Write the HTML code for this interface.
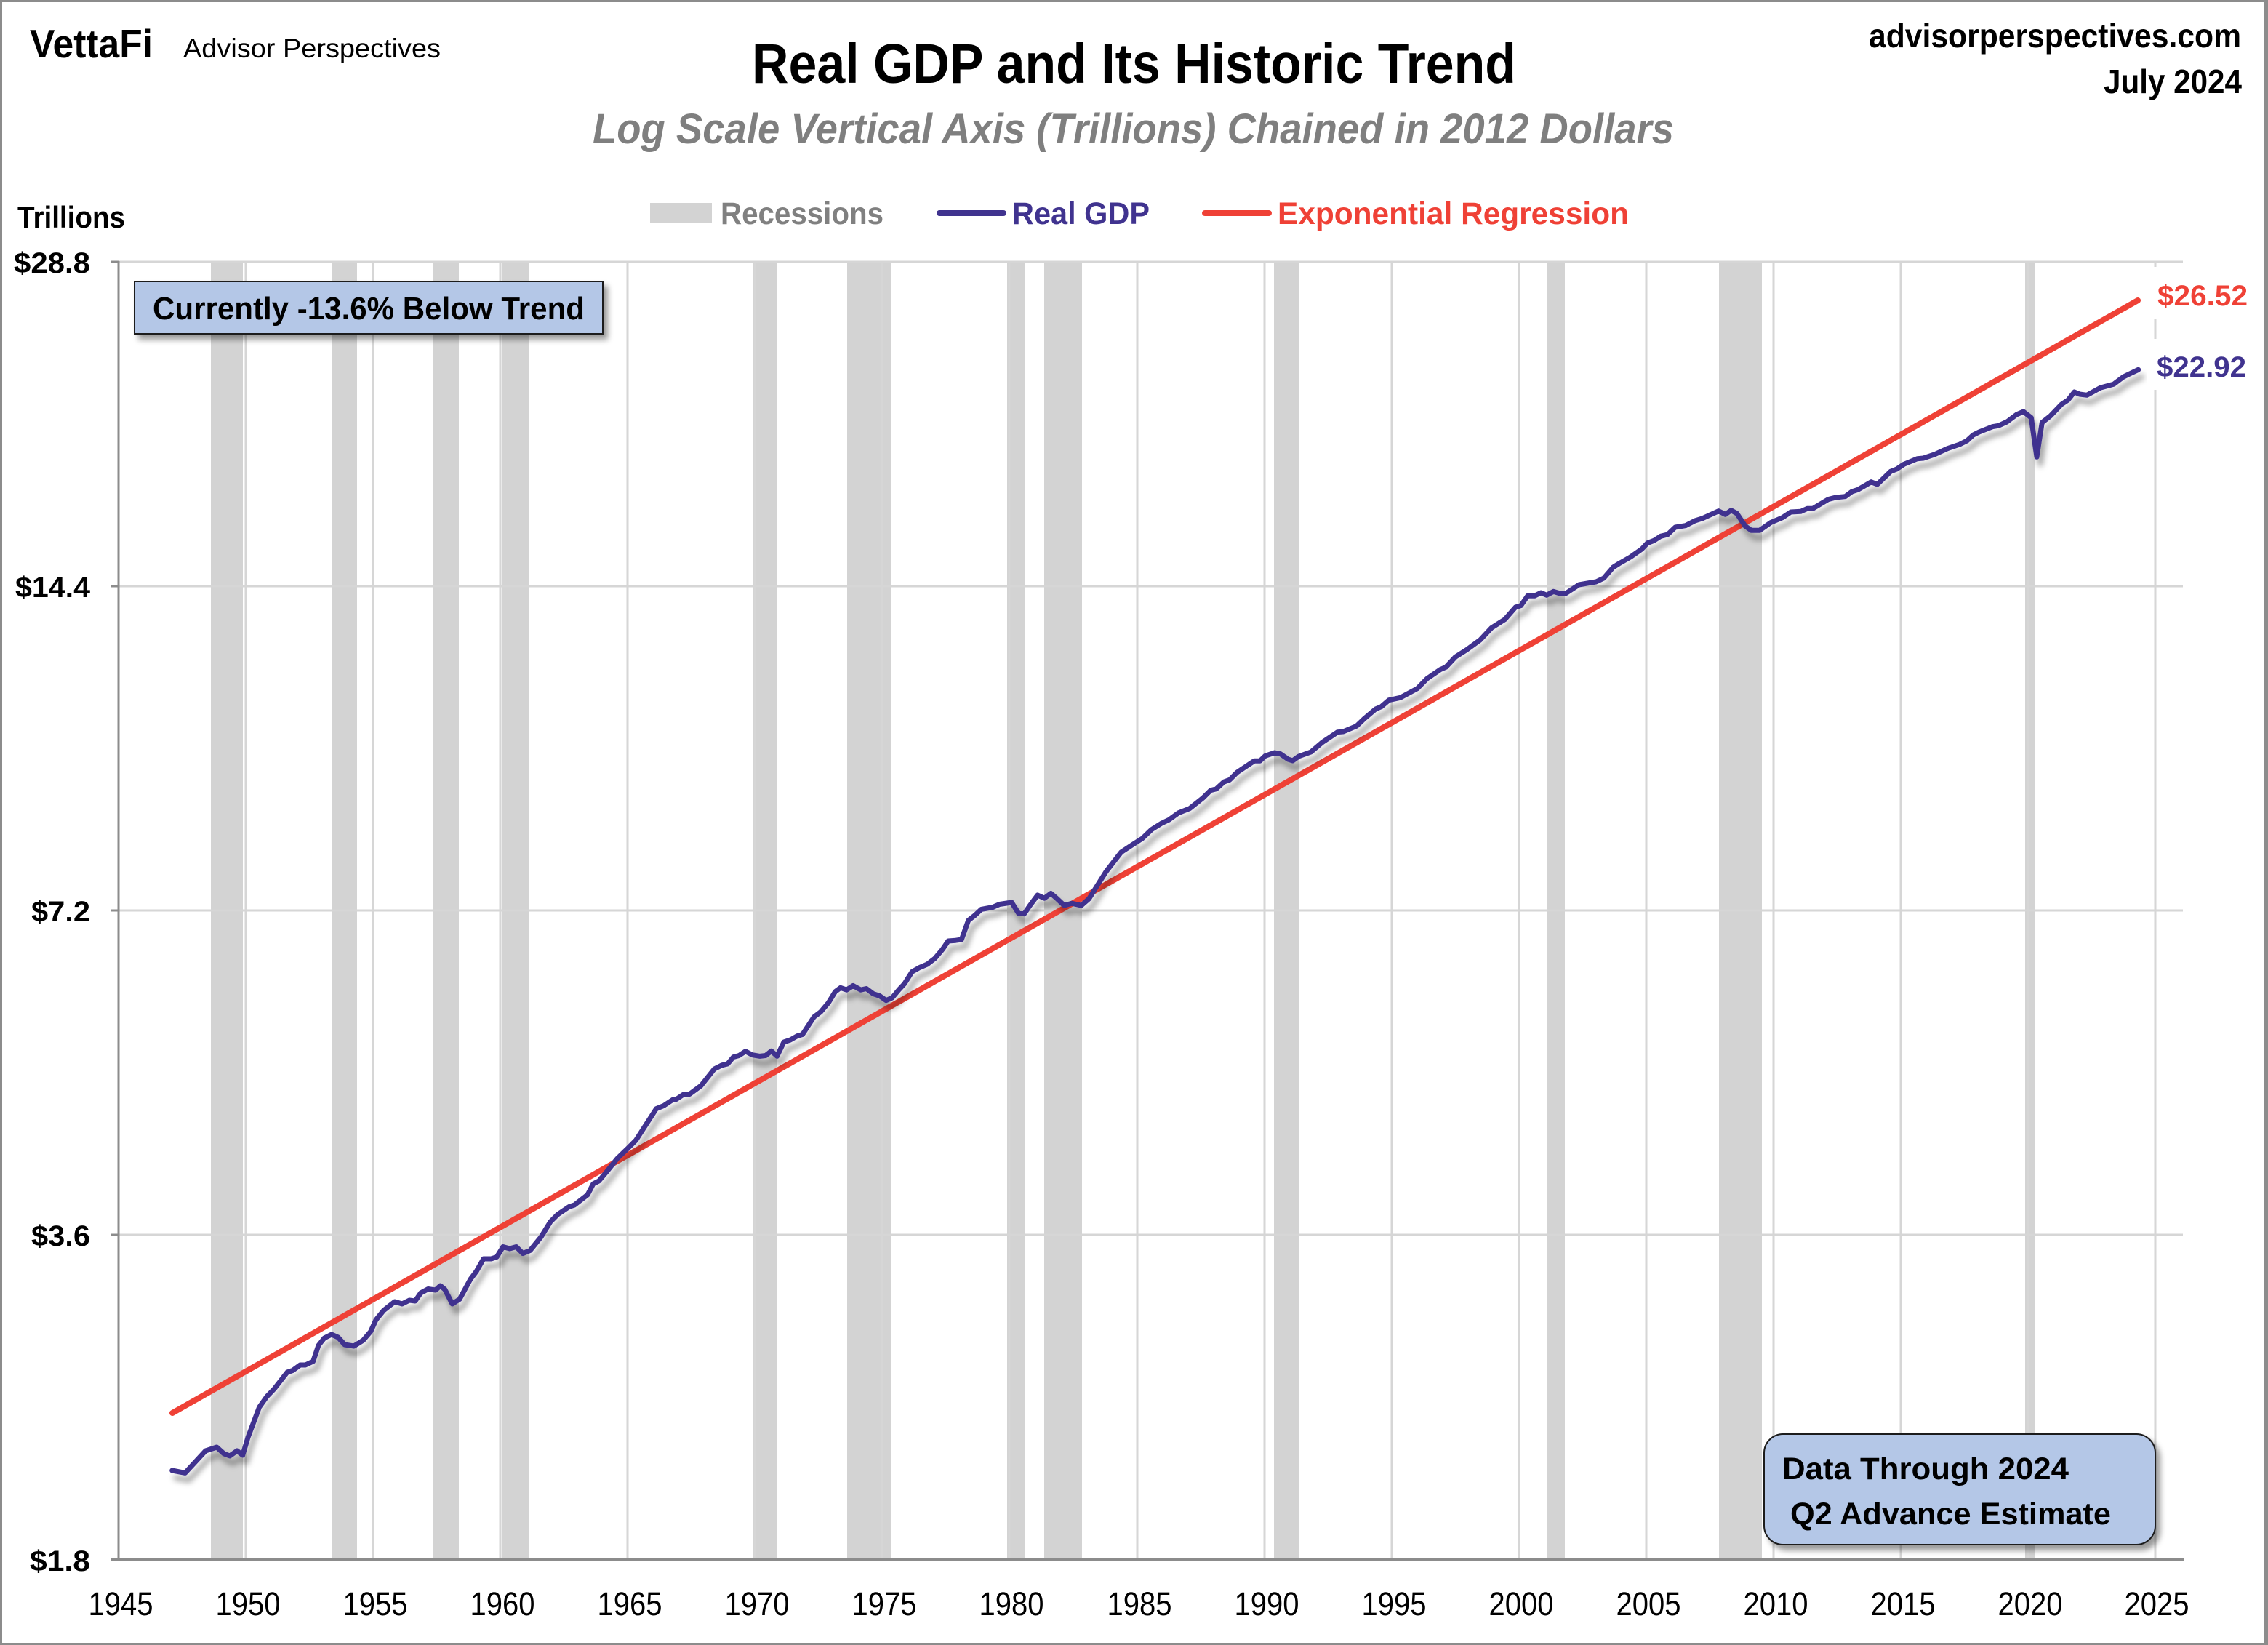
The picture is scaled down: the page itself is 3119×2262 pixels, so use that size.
<!DOCTYPE html>
<html><head><meta charset="utf-8"><style>
html,body{margin:0;padding:0;background:#fff;}
svg{display:block;}
text{font-family:"Liberation Sans",Arial,sans-serif;}
</style></head><body>
<svg width="3119" height="2262" viewBox="0 0 3119 2262" xmlns="http://www.w3.org/2000/svg">
<defs>
<filter id="sh" x="-5%" y="-5%" width="110%" height="110%">
<feDropShadow dx="5" dy="10" stdDeviation="4" flood-color="#000" flood-opacity="0.35"/>
</filter>
<filter id="bsh" x="-10%" y="-20%" width="120%" height="150%">
<feDropShadow dx="6" dy="7" stdDeviation="4" flood-color="#000" flood-opacity="0.4"/>
</filter>
</defs>
<rect x="0" y="0" width="3119" height="2262" fill="#fff"/>
<!-- recession bands -->
<g fill="#d3d3d3">
<rect x="290" y="360" width="44" height="1784"/>
<rect x="456" y="360" width="35" height="1784"/>
<rect x="596" y="360" width="35" height="1784"/>
<rect x="690" y="360" width="38" height="1784"/>
<rect x="1035" y="360" width="34" height="1784"/>
<rect x="1165" y="360" width="61" height="1784"/>
<rect x="1385" y="360" width="25" height="1784"/>
<rect x="1436" y="360" width="52" height="1784"/>
<rect x="1752" y="360" width="34" height="1784"/>
<rect x="2128" y="360" width="24" height="1784"/>
<rect x="2364" y="360" width="59" height="1784"/>
<rect x="2785" y="360" width="14" height="1784"/>
</g>
<!-- vertical gridlines -->
<g stroke="#d6d6d6" stroke-width="3">
<line x1="338" y1="360" x2="338" y2="2144"/>
<line x1="513" y1="360" x2="513" y2="2144"/>
<line x1="688" y1="360" x2="688" y2="2144"/>
<line x1="863" y1="360" x2="863" y2="2144"/>
<line x1="1038" y1="360" x2="1038" y2="2144"/>
<line x1="1213" y1="360" x2="1213" y2="2144"/>
<line x1="1388" y1="360" x2="1388" y2="2144"/>
<line x1="1564" y1="360" x2="1564" y2="2144"/>
<line x1="1739" y1="360" x2="1739" y2="2144"/>
<line x1="1914" y1="360" x2="1914" y2="2144"/>
<line x1="2089" y1="360" x2="2089" y2="2144"/>
<line x1="2264" y1="360" x2="2264" y2="2144"/>
<line x1="2439" y1="360" x2="2439" y2="2144"/>
<line x1="2614" y1="360" x2="2614" y2="2144"/>
<line x1="2789" y1="360" x2="2789" y2="2144"/>
<line x1="2964" y1="360" x2="2964" y2="2144"/>
<!-- horizontal gridlines -->
<line x1="163" y1="360" x2="3002" y2="360"/>
<line x1="163" y1="806" x2="3002" y2="806"/>
<line x1="163" y1="1252" x2="3002" y2="1252"/>
<line x1="163" y1="1698" x2="3002" y2="1698"/>
</g>
<!-- axes -->
<g stroke="#8c8c8c">
<line x1="163" y1="359" x2="163" y2="2146" stroke-width="3"/>
<line x1="152" y1="2144" x2="3003" y2="2144" stroke-width="4"/>
<line x1="152" y1="360" x2="163" y2="360" stroke-width="3"/>
<line x1="152" y1="806" x2="163" y2="806" stroke-width="3"/>
<line x1="152" y1="1252" x2="163" y2="1252" stroke-width="3"/>
<line x1="152" y1="1698" x2="163" y2="1698" stroke-width="3"/>
</g>
<!-- red trend line -->
<line x1="237" y1="1943" x2="2940" y2="413" stroke="#ef4136" stroke-width="8" stroke-linecap="round"/>
<!-- blue GDP line -->
<polyline filter="url(#sh)" fill="none" stroke="#40338f" stroke-width="7" stroke-linejoin="round" stroke-linecap="round" points="236.7,2022 254.6,2025.4 282.7,1995 298,1990 308,1999 316,2002 326,1995 333.7,2001 341,1976.5 356.6,1935 366.8,1920.6 377,1910 395,1887 402.5,1884.5 412.8,1877 420,1877 430.6,1872 438,1850 446,1840 456,1835 465,1839 474,1849 486.7,1851 499.5,1843 509.7,1831 517,1815 527.6,1802 542.8,1790 553,1793 563,1788 571,1789 578.6,1778 588.8,1772.5 599,1774 605.6,1768 611.7,1773 622,1793 632,1786.6 647,1759 655,1748.5 665,1731 675.5,1731 683,1728.6 691.8,1714.5 701,1717 710,1714.5 719,1723.6 729,1719.5 744,1701 757,1680 767,1670 782.7,1659.4 790,1657 808,1643 815.8,1628 823.5,1624 833.7,1612 849,1593 864,1578.5 874.5,1568 902.5,1524.6 912.7,1520.5 925.5,1512 930,1511.6 940.5,1504.6 948.3,1504.6 964,1493 982.3,1470 992.8,1464.8 1000.6,1463 1008.5,1453.6 1016.3,1451.5 1025.2,1445.7 1034.6,1450.7 1045,1452.4 1052.9,1451.5 1060.8,1445.3 1068.6,1452.4 1078,1432.9 1086.9,1430 1096.3,1424.6 1103.6,1422.5 1119.3,1398.5 1128.7,1391.4 1139.2,1379 1148.6,1363.7 1155.9,1358.3 1164.3,1361.2 1173.2,1355.4 1183.7,1361.2 1191.5,1359.5 1200.9,1366.6 1209.8,1369.5 1218.7,1375.7 1227,1372 1236,1361.2 1243.8,1352.9 1254.3,1336.3 1264.7,1330.5 1275.2,1326 1285.6,1318 1296.1,1305.6 1304,1294 1314.4,1293.2 1322.3,1292 1331.7,1265.8 1340.6,1258.8 1349.4,1250.5 1365.1,1247.6 1374.6,1243.5 1391.3,1241 1400.7,1255.9 1408.5,1256.7 1416.4,1245.1 1426.9,1231 1436.3,1235.2 1445.2,1228.5 1453,1235.2 1463.5,1245.1 1473.9,1242.2 1487,1245.1 1497.5,1236 1505.3,1223.6 1521,1198.7 1541.9,1171.8 1557.6,1161.4 1570.7,1153.1 1583.7,1140.7 1596.8,1132.4 1607.3,1127.4 1620.4,1117.9 1636,1111.7 1654.4,1097.1 1664.8,1086.8 1672.7,1084.7 1683.1,1075.2 1691,1072.3 1701.4,1061.9 1725,1046.2 1732.8,1046.2 1740,1039.3 1753,1035 1761,1036.7 1771.4,1044 1777.7,1046 1786,1040 1802.8,1034 1818.5,1020.7 1839.4,1006.7 1847.2,1006 1865.5,998.3 1876,988.3 1891.7,975 1899.5,971.7 1910,962.7 1925.7,959.3 1949.2,946.7 1962.3,933.3 1980.6,920.7 1988.4,917.3 2001.5,903.3 2017.2,893.3 2035.5,880 2051.2,863.3 2069.5,851.7 2084.1,835 2091.5,832.7 2100.9,819.3 2110.3,819.3 2119.2,815 2127,818.3 2136.4,813.3 2145.3,816 2153.2,816 2171.5,804 2184.6,801.7 2195,800 2205.5,795 2218.5,780 2226.4,775 2242.1,766 2257.8,755 2265.6,746.7 2274.5,743.3 2283.9,737.3 2293.3,735 2303.8,725 2317.9,722.7 2331,716 2341.5,712.7 2363.4,702.7 2372.8,707.3 2380.7,701.7 2388.5,706 2400,723.3 2408.4,729.3 2419.9,729.3 2435.6,718.3 2451.3,711.7 2462.8,704 2476.4,703.3 2485.3,699.3 2493.1,699.3 2514,686.7 2524.5,684 2537.6,682.7 2546.7,676 2555,673.3 2573.3,662.7 2581.7,666 2600,648.3 2608.3,645 2618.3,638.3 2636.7,630.7 2645,630 2660,625 2678.3,616.7 2695,611 2705,606 2713.3,598.3 2721.7,594 2740,586.7 2748.3,585.3 2760,580 2773.3,570 2782.7,566 2793.3,574.3 2801,628.3 2808.3,581 2820,571.7 2835,556 2844,550 2852.7,539 2860,542 2870,543.3 2888.3,533.3 2906.7,528.3 2920,518.3 2926.7,515 2940.7,508.3"/>
<!-- end labels -->
<rect x="2953" y="367" width="152" height="71" fill="#fff"/>
<rect x="2953" y="466" width="152" height="70" fill="#fff"/>
<text x="2967" y="420" font-size="40" font-weight="bold" fill="#ef4136" textLength="124" lengthAdjust="spacingAndGlyphs">$26.52</text>
<text x="2966" y="518" font-size="40" font-weight="bold" fill="#40338f" textLength="123" lengthAdjust="spacingAndGlyphs">$22.92</text>
<!-- y labels -->
<g font-size="40" font-weight="bold" fill="#000" text-anchor="end">
<text x="124" y="375" textLength="105" lengthAdjust="spacingAndGlyphs">$28.8</text>
<text x="124" y="821" textLength="103" lengthAdjust="spacingAndGlyphs">$14.4</text>
<text x="124" y="1267" textLength="81" lengthAdjust="spacingAndGlyphs">$7.2</text>
<text x="124" y="1713" textLength="81" lengthAdjust="spacingAndGlyphs">$3.6</text>
<text x="124" y="2160" textLength="83" lengthAdjust="spacingAndGlyphs">$1.8</text>
</g>
<text x="24" y="313" font-size="42" font-weight="bold" fill="#000" textLength="148" lengthAdjust="spacingAndGlyphs">Trillions</text>
<!-- x labels -->
<g font-size="45" fill="#000" text-anchor="middle">
<text x="166" y="2221" textLength="89" lengthAdjust="spacingAndGlyphs">1945</text>
<text x="341" y="2221" textLength="89" lengthAdjust="spacingAndGlyphs">1950</text>
<text x="516" y="2221" textLength="89" lengthAdjust="spacingAndGlyphs">1955</text>
<text x="691" y="2221" textLength="89" lengthAdjust="spacingAndGlyphs">1960</text>
<text x="866" y="2221" textLength="89" lengthAdjust="spacingAndGlyphs">1965</text>
<text x="1041" y="2221" textLength="89" lengthAdjust="spacingAndGlyphs">1970</text>
<text x="1216" y="2221" textLength="89" lengthAdjust="spacingAndGlyphs">1975</text>
<text x="1391" y="2221" textLength="89" lengthAdjust="spacingAndGlyphs">1980</text>
<text x="1567" y="2221" textLength="89" lengthAdjust="spacingAndGlyphs">1985</text>
<text x="1742" y="2221" textLength="89" lengthAdjust="spacingAndGlyphs">1990</text>
<text x="1917" y="2221" textLength="89" lengthAdjust="spacingAndGlyphs">1995</text>
<text x="2092" y="2221" textLength="89" lengthAdjust="spacingAndGlyphs">2000</text>
<text x="2267" y="2221" textLength="89" lengthAdjust="spacingAndGlyphs">2005</text>
<text x="2442" y="2221" textLength="89" lengthAdjust="spacingAndGlyphs">2010</text>
<text x="2617" y="2221" textLength="89" lengthAdjust="spacingAndGlyphs">2015</text>
<text x="2792" y="2221" textLength="89" lengthAdjust="spacingAndGlyphs">2020</text>
<text x="2966" y="2221" textLength="89" lengthAdjust="spacingAndGlyphs">2025</text>
</g>
<!-- Currently box -->
<rect x="185" y="387" width="644" height="72" fill="#b4c7e7" stroke="#1a1a1a" stroke-width="2" filter="url(#bsh)"/>
<text x="210" y="439" font-size="44" font-weight="bold" fill="#000" textLength="594" lengthAdjust="spacingAndGlyphs">Currently -13.6% Below Trend</text>
<!-- Data through box -->
<rect x="2426" y="1972" width="538" height="152" rx="26" ry="26" fill="#b4c7e7" stroke="#1a1a1a" stroke-width="2" filter="url(#bsh)"/>
<text x="2451" y="2034" font-size="43" font-weight="bold" fill="#000" textLength="394" lengthAdjust="spacingAndGlyphs">Data Through 2024</text>
<text x="2462" y="2096" font-size="43" font-weight="bold" fill="#000" textLength="441" lengthAdjust="spacingAndGlyphs">Q2 Advance Estimate</text>
<!-- title -->
<text x="1034" y="114" font-size="77" font-weight="bold" fill="#000" textLength="1051" lengthAdjust="spacingAndGlyphs">Real GDP and Its Historic Trend</text>
<text x="815" y="197" font-size="58" font-weight="bold" font-style="italic" fill="#7f7f7f" textLength="1487" lengthAdjust="spacingAndGlyphs">Log Scale Vertical Axis (Trillions) Chained in 2012 Dollars</text>
<!-- legend -->
<rect x="894" y="279" width="85" height="28" fill="#d3d3d3"/>
<text x="991" y="308" font-size="43" font-weight="bold" fill="#808080" textLength="224" lengthAdjust="spacingAndGlyphs">Recessions</text>
<line x1="1292" y1="293" x2="1380" y2="293" stroke="#40338f" stroke-width="8" stroke-linecap="round"/>
<text x="1392" y="308" font-size="43" font-weight="bold" fill="#40338f" textLength="189" lengthAdjust="spacingAndGlyphs">Real GDP</text>
<line x1="1657" y1="293" x2="1745" y2="293" stroke="#ef4136" stroke-width="8" stroke-linecap="round"/>
<text x="1757" y="308" font-size="43" font-weight="bold" fill="#ef4136" textLength="483" lengthAdjust="spacingAndGlyphs">Exponential Regression</text>
<!-- header -->
<text x="41" y="79" font-size="55" font-weight="bold" fill="#000" textLength="169" lengthAdjust="spacingAndGlyphs">VettaFi</text>
<text x="252" y="79" font-size="37" fill="#000" textLength="354" lengthAdjust="spacingAndGlyphs">Advisor Perspectives</text>
<text x="3082" y="65" font-size="46" font-weight="bold" fill="#000" text-anchor="end" textLength="512" lengthAdjust="spacingAndGlyphs">advisorperspectives.com</text>
<text x="3083" y="128" font-size="46" font-weight="bold" fill="#000" text-anchor="end" textLength="190" lengthAdjust="spacingAndGlyphs">July 2024</text>
<!-- outer frame -->
<rect x="0" y="0" width="3119" height="3" fill="#8c8c8c"/>
<rect x="0" y="2259" width="3119" height="3" fill="#8c8c8c"/>
<rect x="0" y="0" width="3" height="2262" fill="#8c8c8c"/>
<rect x="3113" y="0" width="6" height="2262" fill="#8c8c8c"/>
</svg>
</body></html>
